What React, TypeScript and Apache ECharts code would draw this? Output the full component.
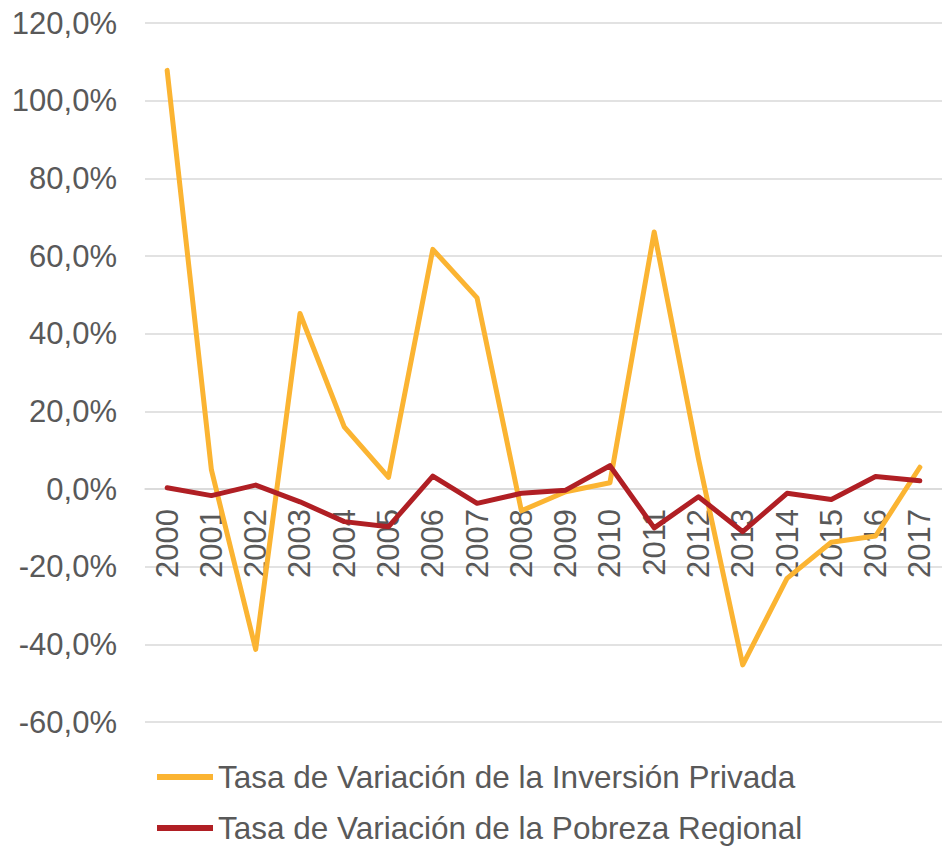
import React, { useEffect, useRef } from "react";
import * as echarts from "echarts";

const years = ["2000","2001","2002","2003","2004","2005","2006","2007","2008","2009","2010","2011","2012","2013","2014","2015","2016","2017"];
const inversionPrivada = [107.8, 4.9, -41.3, 45.2, 16.0, 3.0, 61.7, 49.2, -5.6, -0.7, 1.6, 66.2, 7.8, -45.3, -23.0, -13.7, -12.1, 5.6];
const pobrezaRegional = [0.3, -1.7, 1.0, -3.3, -8.4, -9.7, 3.3, -3.7, -1.1, -0.3, 6.0, -10.0, -2.0, -11.0, -1.1, -2.7, 3.2, 2.1];
const seriesNames = ["Tasa de Variación de la Inversión Privada", "Tasa de Variación de la Pobreza Regional"];

const Y_MIN = -60;
const Y_MAX = 120;
const GRID_TOP = 23;
const GRID_BOTTOM = 125;
const CHART_H = 847;

export default function App() {
  const ref = useRef<HTMLDivElement>(null);
  useEffect(() => {
    if (!ref.current) return;
    const chart = echarts.init(ref.current, undefined, { renderer: "svg" });
    const font = "Liberation Sans, Arial, sans-serif";
    const plotH = CHART_H - GRID_TOP - GRID_BOTTOM;
    const zeroOffset = -(plotH * (0 - Y_MIN)) / (Y_MAX - Y_MIN);
    const icon = "path://M0,0 L56,0 L56,6 L0,6 Z";
    chart.setOption({
      animation: false,
      backgroundColor: "#ffffff",
      grid: { left: 145, right: -2, top: GRID_TOP, bottom: GRID_BOTTOM, containLabel: false },
      legend: {
        orient: "vertical",
        left: 157,
        top: 761,
        height: 100,
        padding: 0,
        itemWidth: 56,
        itemHeight: 6,
        itemGap: 19,
        data: [
          { name: seriesNames[0], icon, itemStyle: { color: "#FBB432" } },
          { name: seriesNames[1], icon, itemStyle: { color: "#B01F24" } },
        ],
        textStyle: { fontFamily: font, fontSize: 31.5, color: "#595959", lineHeight: 32 },
      },
      xAxis: {
        type: "category",
        data: years,
        boundaryGap: true,
        position: "bottom",
        offset: zeroOffset,
        axisLine: { show: true, onZero: false, lineStyle: { color: "#d9d9d9", width: 1.5 } },
        axisTick: { show: false },
        axisLabel: {
          rotate: 90,
          margin: 20,
          interval: 0,
          fontFamily: font,
          fontSize: 31,
          color: "#595959",
        },
        splitLine: { show: false },
      },
      yAxis: {
        type: "value",
        min: Y_MIN,
        max: Y_MAX,
        interval: 20,
        axisLine: { show: false },
        axisTick: { show: false },
        axisLabel: {
          margin: 28,
          fontFamily: font,
          fontSize: 31,
          color: "#595959",
          formatter: (v: number) => v.toFixed(1).replace(".", ",") + "%",
        },
        splitLine: { lineStyle: { color: "#d9d9d9", width: 1.5 } },
      },
      series: [
        {
          name: seriesNames[0],
          type: "line",
          data: inversionPrivada,
          symbol: "none",
          lineStyle: { color: "#FBB432", width: 5, cap: "round", join: "round" },
          itemStyle: { color: "#FBB432" },
          z: 2,
        },
        {
          name: seriesNames[1],
          type: "line",
          data: pobrezaRegional,
          symbol: "none",
          lineStyle: { color: "#B01F24", width: 5, cap: "round", join: "round" },
          itemStyle: { color: "#B01F24" },
          z: 3,
        },
      ],
    });
    return () => chart.dispose();
  }, []);
  return (
    <div
      ref={ref}
      style={{ position: "fixed", left: 0, top: 0, width: 942, height: 847, background: "#fff" }}
    />
  );
}
